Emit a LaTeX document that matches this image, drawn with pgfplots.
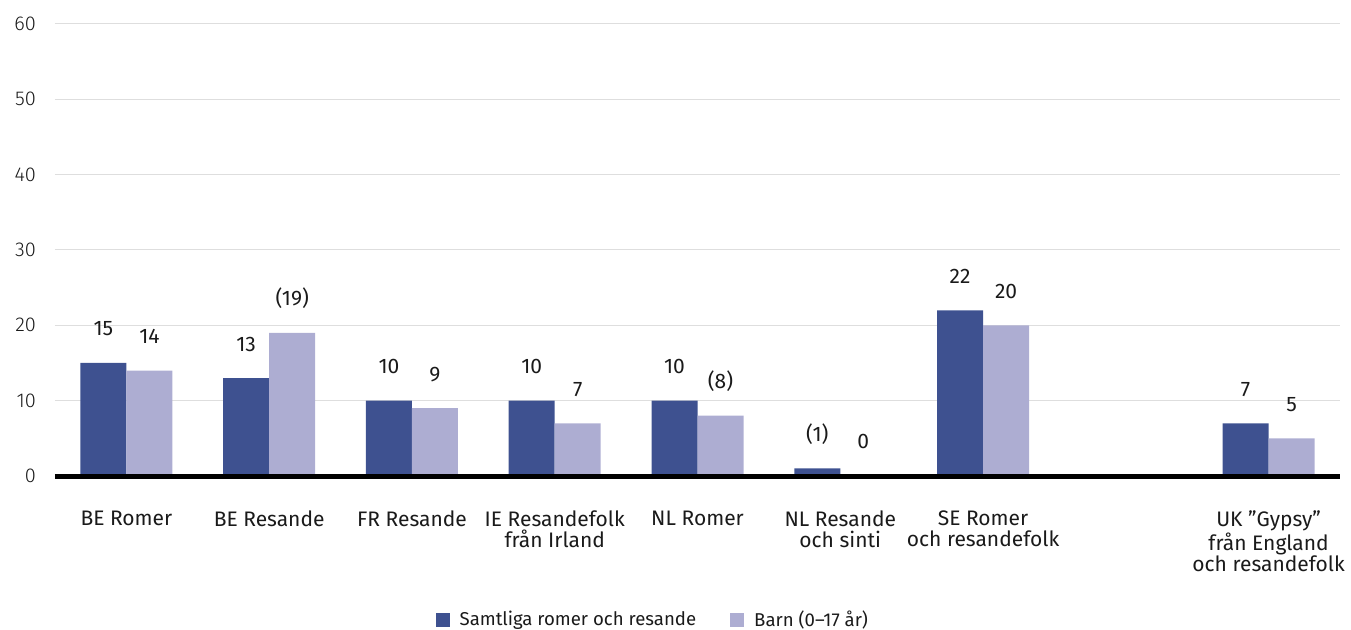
\documentclass[border=0pt]{standalone}
\usepackage{pgfplots}
\pgfplotsset{compat=1.18}
\usepackage{pgfplotstable}
\usepackage{fontspec}
\setmainfont{Fira Sans}
\newfontfamily\lightfont{Fira Sans Light}
\definecolor{darkbar}{RGB}{62,81,144}
\definecolor{lightbar}{RGB}{173,173,210}
\definecolor{txt}{RGB}{26,26,26}
\definecolor{gridc}{RGB}{222,222,222}

\pgfplotstableread{
x y label
0 15 15
1 13 13
2 10 10
3 10 10
4 10 10
5 1 (1)
6 22 22
8 7 7
}\dataA
\pgfplotstableread{
x y label
0 14 14
1 19 (19)
2 9 9
3 7 7
4 8 (8)
5 0 0
6 20 20
8 5 5
}\dataB

\begin{document}
\begin{tikzpicture}
\begin{axis}[
  name=ax,
  scale only axis,
  width=642.5pt, height=226pt,
  xmin=-0.5, xmax=8.5,
  ymin=0, ymax=60,
  ytick={0,10,...,60},
  xtick={0,1,2,3,4,5,6,8},
  xticklabels={BE Romer, BE Resande, FR Resande, {IE Resandefolk\\från Irland}, NL Romer, {NL Resande\\och sinti}, {SE Romer\\och resandefolk}, {UK ”Gypsy”\\från England\\och resandefolk}},
  axis line style={draw=none},
  major tick length=0pt,
  ymajorgrids,
  grid style={draw=gridc, line width=0.5pt},
  /pgf/number format/assume math mode=true,
  yticklabel style={font=\lightfont\fontsize{10}{12}\selectfont, text=txt, xshift=-6pt},
  xticklabel style={font=\fontsize{10.5}{10.4}\selectfont, text=txt, align=center, anchor=north, yshift=-14pt},
  ybar=0pt,
  bar width=23pt,
  clip=false,
  nodes near coords,
  point meta=explicit symbolic,
  nodes near coords style={anchor=base, yshift=13.5pt, font=\fontsize{10.5}{12}\selectfont, text=txt},
  legend columns=2,
  legend style={at={(0.466,-0.3186)}, anchor=center, draw=none, fill=none,
    font=\fontsize{9.3}{11}\selectfont, text=txt,
    /tikz/every even column/.append style={column sep=15pt}},
  legend image code/.code={\fill[#1] (0pt,-3.5pt) rectangle (7pt,3.5pt); \path (10pt,0pt);},
]
\addplot[fill=darkbar, draw=none] table[x=x, y=y, meta=label] {\dataA};
\addlegendentry{Samtliga romer och resande}
\addplot[fill=lightbar, draw=none] table[x=x, y=y, meta=label] {\dataB};
\addlegendentry{Barn (0–17 år)}
\draw[black, line width=2.5pt] (rel axis cs:0,0) -- (rel axis cs:1,0);
\end{axis}
\pgfresetboundingbox
\path[use as bounding box] ([xshift=-27.5pt,yshift=-77pt]ax.south west) rectangle ([xshift=5.5pt,yshift=12pt]ax.north east);
\end{tikzpicture}
\end{document}
